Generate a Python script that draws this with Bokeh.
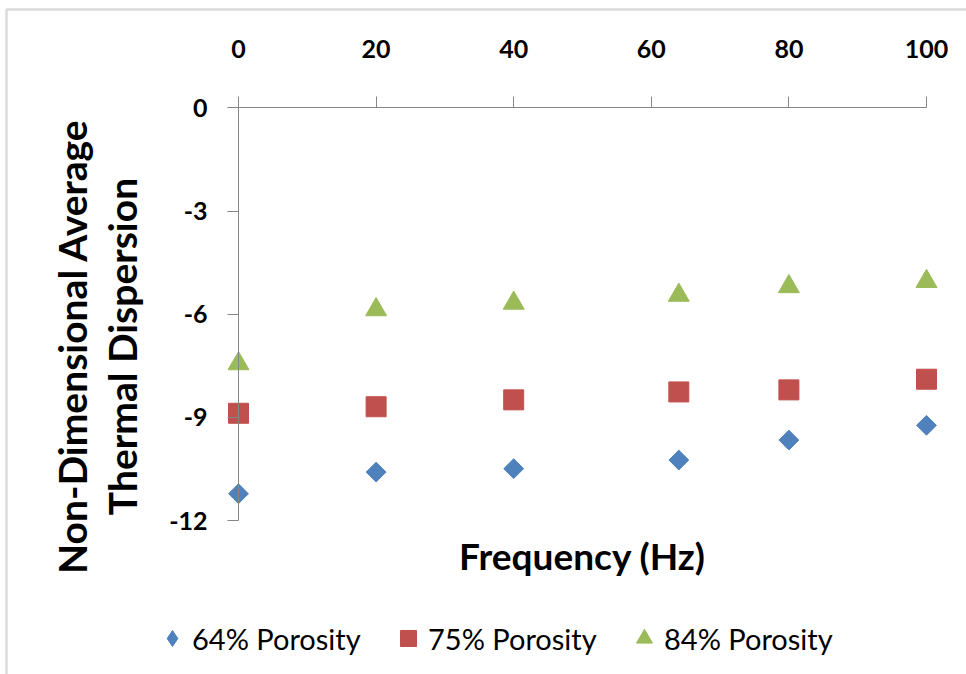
import math

from bokeh.embed import file_html
from bokeh.models import (BoxAnnotation, FixedTicker, Label, Legend, LegendItem,
                          LinearAxis, Range1d)
from bokeh.plotting import figure
from bokeh.resources import INLINE
from bokeh.transform import dodge

# Frequency (Hz) of each run
frequency = [0, 20, 40, 64, 80, 100]

# Non-dimensional average thermal dispersion for each porosity
porosity_64 = [-11.22, -10.59, -10.49, -10.24, -9.66, -9.23]
porosity_75 = [-8.88, -8.69, -8.49, -8.26, -8.20, -7.89]
porosity_84 = [-7.35, -5.78, -5.59, -5.36, -5.11, -4.96]

series_names = ["64% Porosity", "75% Porosity", "84% Porosity"]
x_ticks = [0, 20, 40, 60, 80, 100]
y_ticks = [0, -3, -6, -9, -12]

W, H = 966, 674

# pixel layout of the plotting area: x=0 sits at 238 px, y=0 at 107.3 px
X0_PX, X_SCALE = 238.0, 6.88
Y0_PX, Y_SCALE = 107.3, 34.4


def px2x(px):
    return (px - X0_PX) / X_SCALE


def py2y(py):
    return -(py - Y0_PX) / Y_SCALE


p = figure(width=W, height=H, output_backend="svg", toolbar_location=None,
           x_axis_type=None, y_axis_type=None,
           x_range=Range1d(px2x(0), px2x(W)), y_range=Range1d(py2y(H), py2y(0)),
           min_border=0, min_border_left=0, min_border_right=0,
           min_border_top=0, min_border_bottom=0)
p.outline_line_color = None
p.grid.visible = False
p.background_fill_color = "white"
p.border_fill_color = "white"

AXIS_GREY = "#868686"
FONT = "Lato"

# x axis runs along y = 0 with its labels on top
xaxis = LinearAxis(fixed_location=0, ticker=FixedTicker(ticks=x_ticks), bounds=(0, 100))
# y axis runs along x = 0
yaxis = LinearAxis(fixed_location=0, ticker=FixedTicker(ticks=y_ticks), bounds=(-12, 0))
yaxis.major_label_overrides = {t: str(t) for t in y_ticks}
for ax in (xaxis, yaxis):
    ax.axis_line_color = AXIS_GREY
    ax.axis_line_width = 1
    ax.major_tick_line_color = AXIS_GREY
    ax.major_tick_out = 11
    ax.major_tick_in = 0
    ax.minor_tick_out = 0
    ax.minor_tick_in = 0
    ax.major_label_text_font = FONT
    ax.major_label_text_font_style = "bold"
    ax.major_label_text_font_size = "25px"
    ax.major_label_text_color = "black"
xaxis.major_label_standoff = 39
yaxis.major_label_standoff = 20
p.add_layout(xaxis, "above")
p.add_layout(yaxis, "left")

blue, red, green = "#4F81BD", "#C0504D", "#9BBB59"

# narrow diamond used as the legend key; it sits fully under the chart diamonds
key64 = p.scatter(frequency, porosity_64, marker="diamond", size=16,
                  fill_color=blue, line_color=blue)
r64 = p.scatter(frequency, porosity_64, marker="square", angle=math.pi / 4, size=14,
                fill_color=blue, line_color=blue)
r75 = p.scatter(frequency, porosity_75, marker="square", size=20,
                fill_color=red, line_color=red)
# Triangle glyphs are anchored at their centroid; nudge so the box is centred
tri_size = 21
tri_shift = -(tri_size * math.sqrt(3) / 2) / 6 / Y_SCALE
src84 = {"x": frequency, "y": porosity_84}
r84 = p.scatter(x="x", y=dodge("y", tri_shift, range=p.y_range), source=src84,
                marker="triangle", size=tri_size, fill_color=green, line_color=green)

# axis titles
p.add_layout(Label(x=px2x(582), y=py2y(555), text="Frequency (Hz)",
                   text_align="center", text_baseline="middle",
                   text_font=FONT, text_font_style="bold", text_font_size="37px",
                   text_color="black"))
p.add_layout(Label(x=px2x(71), y=py2y(346), text="Non-Dimensional Average",
                   angle=math.pi / 2, text_align="center", text_baseline="alphabetic",
                   text_font=FONT, text_font_style="bold", text_font_size="39px",
                   text_color="black"))
p.add_layout(Label(x=px2x(121), y=py2y(346), text="Thermal Dispersion",
                   angle=math.pi / 2, text_align="center", text_baseline="alphabetic",
                   text_font=FONT, text_font_style="bold", text_font_size="39px",
                   text_color="black"))

# chart border (left and top edges visible)
p.add_layout(BoxAnnotation(left=px2x(6), top=py2y(9), right=px2x(W + 20), bottom=py2y(H + 20),
                           fill_alpha=0, line_color=AXIS_GREY, line_width=2.5))

legend = Legend(items=[LegendItem(label=series_names[0], renderers=[key64]),
                       LegendItem(label=series_names[1], renderers=[r75]),
                       LegendItem(label=series_names[2], renderers=[r84])],
                orientation="horizontal", location=(152, 16),
                glyph_width=40, glyph_height=40, label_standoff=0, label_width=170,
                spacing=26, padding=0, margin=0,
                border_line_color=None, background_fill_alpha=0,
                label_text_font=FONT, label_text_font_size="29px", label_text_color="black")
p.add_layout(legend, "center")

open("out.html", "w").write(file_html(p, INLINE))
